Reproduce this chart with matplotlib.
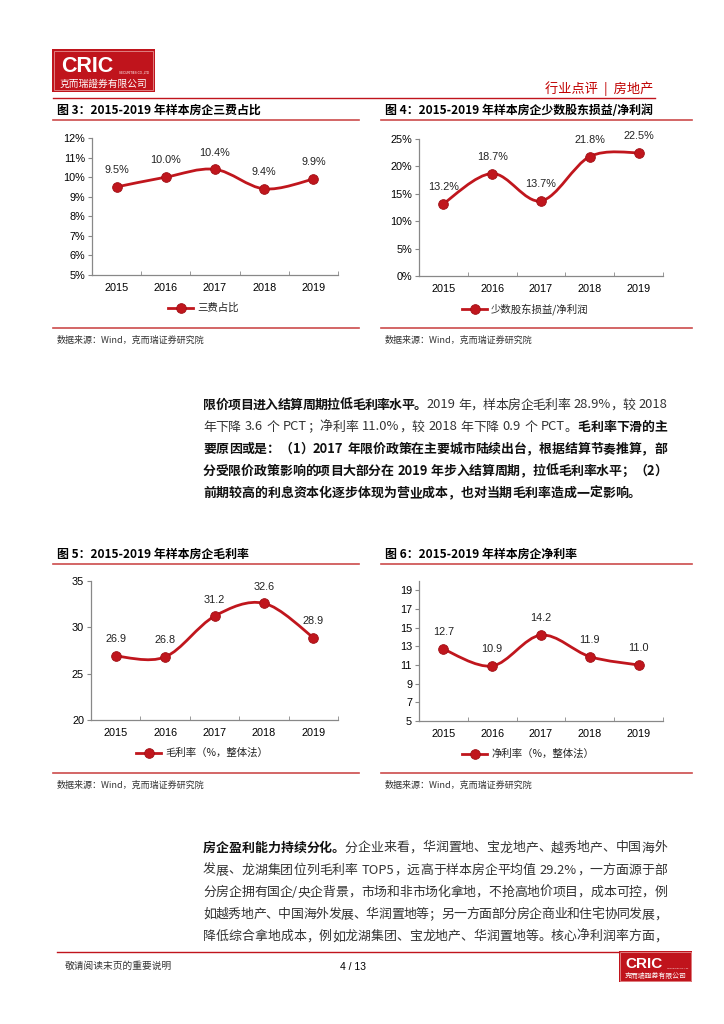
import matplotlib
matplotlib.use('Agg')
import matplotlib.pyplot as plt
from matplotlib.path import Path
from matplotlib.patches import PathPatch, Rectangle
from matplotlib.lines import Line2D

plt.rcParams['font.family'] = ['Noto Sans CJK SC', 'DejaVu Sans']

# ---- data ----
years = ['2015', '2016', '2017', '2018', '2019']
fee_ratio = [9.5, 10.0, 10.4, 9.4, 9.9]            # 三费占比 %
minority_ratio = [13.2, 18.7, 13.7, 21.8, 22.5]     # 少数股东损益/净利润 %
gross_margin = [26.9, 26.8, 31.2, 32.6, 28.9]       # 毛利率
net_margin = [12.7, 10.9, 14.2, 11.9, 11.0]         # 净利率

RED = '#C0161D'
LINE_RED = '#CC4B4B'
W, H = 724, 1024

fig = plt.figure(figsize=(7.24, 10.24), dpi=100)
renderer = fig.canvas.get_renderer()


def fx(x):
    return x / W


def fy(y):
    return 1 - y / H


def hline(x0, x1, y, color=LINE_RED, lw=1.2):
    fig.add_artist(Line2D([fx(x0), fx(x1)], [fy(y), fy(y)], color=color, lw=lw))


def smooth_path(xs, ys):
    # catmull-rom style smoothing, drawn as bezier segments through the data points
    pts = list(zip(xs, ys))
    verts = [pts[0]]
    codes = [Path.MOVETO]
    n = len(pts)
    for i in range(n - 1):
        p0 = pts[max(i - 1, 0)]
        p1 = pts[i]
        p2 = pts[i + 1]
        p3 = pts[min(i + 2, n - 1)]
        c1 = (p1[0] + (p2[0] - p0[0]) / 6, p1[1] + (p2[1] - p0[1]) / 6)
        c2 = (p2[0] - (p3[0] - p1[0]) / 6, p2[1] - (p3[1] - p1[1]) / 6)
        verts += [c1, c2, p2]
        codes += [Path.CURVE4] * 3
    return Path(verts, codes)


def chart(box, values, ylim, yticks, fmt, legend_text, legend_x):
    left, right, top, bottom = box
    ax = fig.add_axes([fx(left), fy(bottom), (right - left) / W, (bottom - top) / H])
    xs = list(range(len(years)))
    ax.add_patch(PathPatch(smooth_path(xs, values), fc='none', ec=RED, lw=2.0,
                           capstyle='round', zorder=2))
    ax.plot(xs, values, 'o', ms=7, color=RED, mec='#A01015', mew=0.6, zorder=3)
    for x, v in zip(xs, values):
        ax.annotate(fmt.format(v), (x, v), xytext=(0, 12), textcoords='offset points',
                    ha='center', va='center', fontsize=7.8, family='Liberation Sans',
                    color='#222222')
    ax.set_xlim(-0.5, len(years) - 0.5)
    ax.set_ylim(*ylim)
    ax.set_xticks(xs)
    ax.set_xticklabels(years, family='Liberation Sans', fontsize=7.8)
    ax.set_xticks([i + 0.5 for i in range(-1, len(years))], minor=True)
    ax.tick_params(axis='x', which='major', length=0, pad=6)
    ax.tick_params(axis='x', which='minor', length=3, direction='in', color='#888888')
    ax.set_yticks(yticks)
    ax.set_yticklabels([('{:d}%' if '%' in fmt else '{:d}').format(t) for t in yticks],
                       family='Liberation Sans', fontsize=7.8)
    ax.tick_params(axis='y', length=3, color='#888888', pad=2)
    for s in ['top', 'right']:
        ax.spines[s].set_visible(False)
    for s in ['left', 'bottom']:
        ax.spines[s].set_color('#888888')
        ax.spines[s].set_linewidth(0.9)
    ax.patch.set_alpha(0)
    # legend
    ly = bottom + (308 - 275)
    fig.add_artist(Line2D([fx(legend_x), fx(legend_x + 25)], [fy(ly), fy(ly)],
                          color=RED, lw=2.0))
    fig.add_artist(Line2D([fx(legend_x + 12.5)], [fy(ly)], marker='o', ms=7,
                          color=RED, mec='#A01015', mew=0.6))
    fig.text(fx(legend_x + 29), fy(ly), legend_text, fontsize=7.5, va='center',
             color='#222222')
    return ax


def titled(x0, x1, title_y, title, bottom_y):
    fig.text(fx(x0 + 4), fy(title_y), title, fontsize=8.6, weight='bold', va='center')
    hline(x0, x1, title_y + 10)
    hline(x0, x1, bottom_y)
    fig.text(fx(x0 + 4), fy(bottom_y + 12), '数据来源：Wind，克而瑞证券研究院',
             fontsize=6.5, va='center', color='#333333')


# ---- header ----
def logo(x0, y0, w, h, scale):
    fig.add_artist(Rectangle((fx(x0), fy(y0 + h)), w / W, h / H, fc='#C0141C', ec='none'))
    fig.add_artist(Rectangle((fx(x0 + 2 * scale), fy(y0 + h - 2 * scale)),
                             (w - 4 * scale) / W, (h - 4 * scale) / H,
                             fc='none', ec='#E59090', lw=0.6))
    fig.text(fx(x0 + 9 * scale), fy(y0 + 18 * scale), 'CRIC', color='white',
             family='Liberation Sans', weight='bold', fontsize=15.5 * scale, va='center')
    fig.text(fx(x0 + 67 * scale), fy(y0 + 24 * scale), 'SECURITIES CO.,LTD', color='white',
             family='Liberation Sans', fontsize=2.2 * scale, va='center')
    fig.text(fx(x0 + 8 * scale), fy(y0 + 35 * scale), '克而瑞證券有限公司', color='white',
             fontsize=7.0 * scale, va='center')


logo(52, 49, 103, 43, 1.0)
fig.text(fx(653), fy(89), '行业点评  |  房地产', color='#C00000', fontsize=9.5,
         ha='right', va='center')
hline(53, 655, 98, color='#C0141C', lw=1.0)

# ---- charts row 1 ----
titled(53, 359, 110, '图 3：2015-2019 年样本房企三费占比', 328)
titled(381, 692, 110, '图 4：2015-2019 年样本房企少数股东损益/净利润', 328)
chart((92, 338, 138, 275), fee_ratio, (5, 12), list(range(5, 13)), '{:.1f}%',
      '三费占比', 168)
chart((419, 663, 139, 276), minority_ratio, (0, 25), list(range(0, 26, 5)), '{:.1f}%',
      '少数股东损益/净利润', 462)

# ---- charts row 2 ----
titled(53, 359, 554, '图 5：2015-2019 年样本房企毛利率', 773)
titled(381, 692, 554, '图 6：2015-2019 年样本房企净利率', 773)
chart((91, 338, 581, 720), gross_margin, (20, 35), list(range(20, 36, 5)), '{:.1f}',
      '毛利率（%，整体法）', 136)
chart((419, 663, 581, 721), net_margin, (5, 20), list(range(5, 20, 2)), '{:.1f}',
      '净利率（%，整体法）', 462)


# ---- body text ----
def tokens(s):
    out, buf = [], ''
    for ch in s:
        if ord(ch) < 128 and ch != ' ':
            buf += ch
        else:
            if buf:
                out.append(buf)
                buf = ''
            out.append(ch)
    if buf:
        out.append(buf)
    return out


def text_line(y, segs, x0=203, x1=667, justify=True, size=9.3):
    items = []
    for s, bold in segs:
        for t in tokens(s):
            items.append((t, bold))
    objs, widths = [], []
    for t, bold in items:
        o = fig.text(0, fy(y), t, fontsize=size, va='center',
                     weight='bold' if bold else 'normal',
                     color='#111111' if bold else '#333333')
        if t == ' ':
            wdt = size * 100 / 72 * 0.3
        else:
            wdt = o.get_window_extent(renderer).width
        objs.append(o)
        widths.append(wdt)
    gap = 0
    if justify and len(objs) > 1:
        gap = (x1 - x0 - sum(widths)) / (len(objs) - 1)
    x = x0
    for o, wdt in zip(objs, widths):
        o.set_x(fx(x))
        x += wdt + gap


para1 = [
    [('限价项目进入结算周期拉低毛利率水平。', True), ('2019 年，样本房企毛利率 28.9%，较 2018', False)],
    [('年下降 3.6 个 PCT；净利率 11.0%，较 2018 年下降 0.9 个 PCT。', False), ('毛利率下滑的主', True)],
    [('要原因或是：（1）2017 年限价政策在主要城市陆续出台，根据结算节奏推算，部', True)],
    [('分受限价政策影响的项目大部分在 2019 年步入结算周期，拉低毛利率水平；（2）', True)],
    [('前期较高的利息资本化逐步体现为营业成本，也对当期毛利率造成一定影响。', True)],
]
para2 = [
    [('房企盈利能力持续分化。', True), ('分企业来看，华润置地、宝龙地产、越秀地产、中国海外', False)],
    [('发展、龙湖集团位列毛利率 TOP5，远高于样本房企平均值 29.2%，一方面源于部', False)],
    [('分房企拥有国企/央企背景，市场和非市场化拿地，不抢高地价项目，成本可控，例', False)],
    [('如越秀地产、中国海外发展、华润置地等；另一方面部分房企商业和住宅协同发展，', False)],
    [('降低综合拿地成本，例如龙湖集团、宝龙地产、华润置地等。核心净利润率方面，', False)],
]
for i, segs in enumerate(para1):
    text_line(405 + 22 * i, segs, justify=(i < len(para1) - 1))
for i, segs in enumerate(para2):
    text_line(848 + 22.2 * i, segs)

# ---- footer ----
hline(57, 619, 952, color='#C0141C', lw=1.0)
fig.text(fx(65), fy(966), '敬请阅读末页的重要说明', fontsize=7, va='center', color='#333333')
fig.text(fx(353), fy(967), '4 / 13', fontsize=7.5, family='Liberation Sans',
         ha='center', va='center')
logo(619, 951, 73, 31, 0.71)

fig.savefig('out.png', dpi=100)
